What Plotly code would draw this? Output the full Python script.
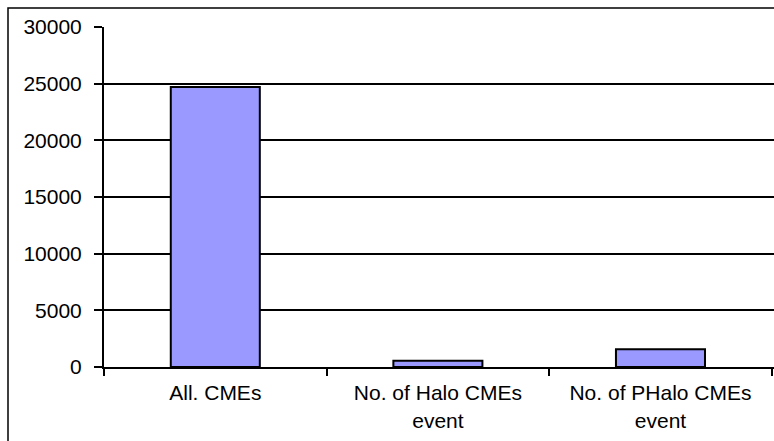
import plotly.graph_objects as go

# CME counts by category
categories = ["All. CMEs", "No. of Halo CMEs<br>event", "No. of PHalo CMEs<br>event"]
counts = [24700, 550, 1560]
y_ticks = [0, 5000, 10000, 15000, 20000, 25000, 30000]

W, H = 774, 441
L, R, T, B = 104, 0, 27, 74

fig = go.Figure(
    go.Bar(
        x=categories,
        y=counts,
        width=0.4,
        marker=dict(color="#9999FF", line=dict(color="black", width=2)),
    )
)

# outer chart frame (extends past the right and bottom edges)
pw, ph = W - L - R, H - T - B
fx0 = (8 - L) / pw
fx1 = (W + 20 - L) / pw
fy1 = 1 + (T - 8) / ph
fy0 = -(B + 20) / ph
fig.add_shape(type="rect", xref="paper", yref="paper",
              x0=fx0, x1=fx1, y0=fy0, y1=fy1,
              line=dict(color="black", width=1.5), layer="below")

fig.update_layout(
    width=W, height=H,
    margin=dict(l=L, r=R, t=T, b=B, pad=0),
    paper_bgcolor="white", plot_bgcolor="white",
    showlegend=False,
    font=dict(family="Liberation Sans, Arial, sans-serif", size=21, color="black"),
    bargap=0.6,
)
fig.update_xaxes(
    type="category",
    range=[-0.5, 2.51],
    showline=True, linecolor="black", linewidth=2,
    ticks="outside", tickson="boundaries", ticklen=7, tickwidth=2, tickcolor="black",
    showgrid=False,
    ticklabelstandoff=6,
    tickfont=dict(size=21),
)
fig.update_yaxes(
    range=[0, 30000],
    tickvals=y_ticks,
    ticktext=[str(v) for v in y_ticks],
    showline=True, linecolor="black", linewidth=2,
    ticks="outside", ticklen=8, tickwidth=2, tickcolor="black",
    showgrid=True, gridcolor="black", gridwidth=2,
    zeroline=False,
    ticklabelstandoff=8,
    tickfont=dict(size=21),
)

fig.write_html("out.html")
